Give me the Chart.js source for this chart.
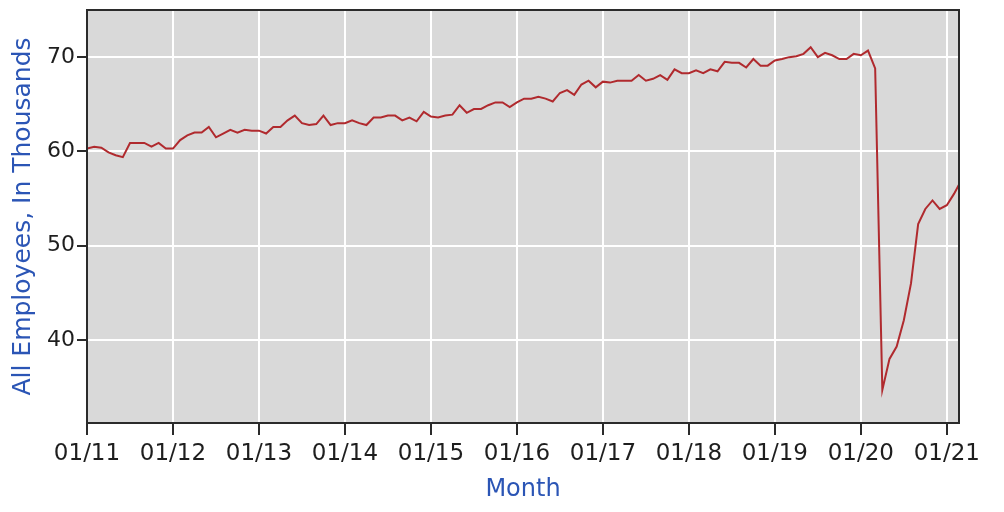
<!DOCTYPE html>
<html>
<head>
<meta charset="utf-8">
<script src="https://cdn.jsdelivr.net/npm/chart.js@4/dist/chart.umd.min.js"></script>
<style>
  html, body { margin: 0; padding: 0; background: #fff; }
</style>
</head>
<body>
<canvas id="myChart" width="1004" height="512"></canvas>
<script>
// monthly values, Jan 2011 .. Mar 2021 (thousands)
var startYear = 2011;
var employees = [
    60.3, 60.5, 60.4, 59.9, 59.6, 59.4, 60.9, 60.9, 60.9, 60.5, 60.9, 60.3,   // 2011
    60.3, 61.2, 61.7, 62.0, 62.0, 62.6, 61.5, 61.9, 62.3, 62.0, 62.3, 62.2,   // 2012
    62.2, 61.9, 62.6, 62.6, 63.3, 63.8, 63.0, 62.8, 62.9, 63.8, 62.8, 63.0,   // 2013
    63.0, 63.3, 63.0, 62.8, 63.6, 63.6, 63.8, 63.8, 63.3, 63.6, 63.2, 64.2,   // 2014
    63.7, 63.6, 63.8, 63.9, 64.9, 64.1, 64.5, 64.5, 64.9, 65.2, 65.2, 64.7,   // 2015
    65.2, 65.6, 65.6, 65.8, 65.6, 65.3, 66.2, 66.5, 66.0, 67.1, 67.5, 66.8,   // 2016
    67.4, 67.3, 67.5, 67.5, 67.5, 68.1, 67.5, 67.7, 68.1, 67.6, 68.7, 68.3,   // 2017
    68.3, 68.6, 68.3, 68.7, 68.5, 69.5, 69.4, 69.4, 68.9, 69.8, 69.1, 69.1,   // 2018
    69.65, 69.8, 70.0, 70.1, 70.35, 71.06, 70.0, 70.45, 70.2, 69.8, 69.8, 70.35, // 2019
    70.2, 70.7, 68.8, 34.7, 38.0, 39.3, 42.1, 46.0, 52.3, 53.9, 54.8, 53.9,   // 2020
    54.3, 55.5, 56.9                                                          // 2021
];
var xTickLabels = ['01/11', '01/12', '01/13', '01/14', '01/15', '01/16', '01/17', '01/18', '01/19', '01/20', '01/21'];
var yTickValues = [40, 50, 60, 70];

var points = employees.map(function (v, i) { return { x: i, y: v }; });

var fontFamily = '"DejaVu Sans", Verdana, sans-serif';
var titleBlue = '#2b55b5';

var plotFrame = {
    id: 'plotFrame',
    beforeDraw: function (chart) {
        var a = chart.chartArea, c = chart.ctx;
        c.save();
        c.fillStyle = '#d9d9d9';
        c.fillRect(a.left, a.top, a.right - a.left, a.bottom - a.top);
        c.restore();
    },
    afterDraw: function (chart) {
        var a = chart.chartArea, c = chart.ctx;
        c.save();
        c.strokeStyle = '#2b2b2b';
        c.lineWidth = 2;
        c.strokeRect(a.left, a.top, a.right - a.left, a.bottom - a.top);
        c.restore();
    }
};

var ctx = document.getElementById('myChart').getContext('2d');
var myChart = new Chart(ctx, {
    type: 'line',
    data: {
        datasets: [{
            label: 'All Employees',
            data: points,
            borderColor: '#b02a2e',
            borderWidth: 2,
            pointRadius: 0,
            tension: 0,
            fill: false
        }]
    },
    options: {
        responsive: false,
        animation: false,
        layout: { padding: { top: 10, right: 45, left: 0, bottom: 0 } },
        plugins: { legend: { display: false }, tooltip: { enabled: false } },
        scales: {
            x: {
                type: 'linear',
                min: 0,
                max: 121.7,
                afterBuildTicks: function (scale) {
                    scale.ticks = xTickLabels.map(function (l, i) { return { value: i * 12 }; });
                },
                afterFit: function (scale) {
                    scale.height = 89;
                    scale.paddingLeft = 0;
                    scale.paddingRight = 0;
                },
                grid: { color: '#ffffff', lineWidth: 2, tickColor: '#2b2b2b', tickWidth: 2, tickLength: 12 },
                border: { display: false },
                ticks: {
                    color: '#1e1e1e',
                    font: { family: fontFamily, size: 23 },
                    padding: 5,
                    maxRotation: 0,
                    autoSkip: false,
                    callback: function (v) { return xTickLabels[Math.round(v / 12)]; }
                },
                title: {
                    display: true,
                    text: 'Month',
                    color: titleBlue,
                    font: { family: fontFamily, size: 24 },
                    padding: { top: 0, bottom: 8 }
                }
            },
            y: {
                min: 31.2,
                max: 75,
                afterBuildTicks: function (scale) {
                    scale.ticks = yTickValues.map(function (v) { return { value: v }; });
                },
                afterFit: function (scale) {
                    scale.width = 87;
                    scale.paddingTop = 0;
                    scale.paddingBottom = 0;
                },
                grid: { color: '#ffffff', lineWidth: 2, tickColor: '#2b2b2b', tickWidth: 2, tickLength: 10 },
                border: { display: false },
                ticks: {
                    color: '#1e1e1e',
                    font: { family: fontFamily, size: 22 },
                    padding: 2
                },
                title: {
                    display: true,
                    text: 'All Employees, In Thousands',
                    color: titleBlue,
                    font: { family: fontFamily, size: 25 },
                    padding: { top: 8, bottom: 0 }
                }
            }
        }
    },
    plugins: [plotFrame]
});
</script>
</body>
</html>
